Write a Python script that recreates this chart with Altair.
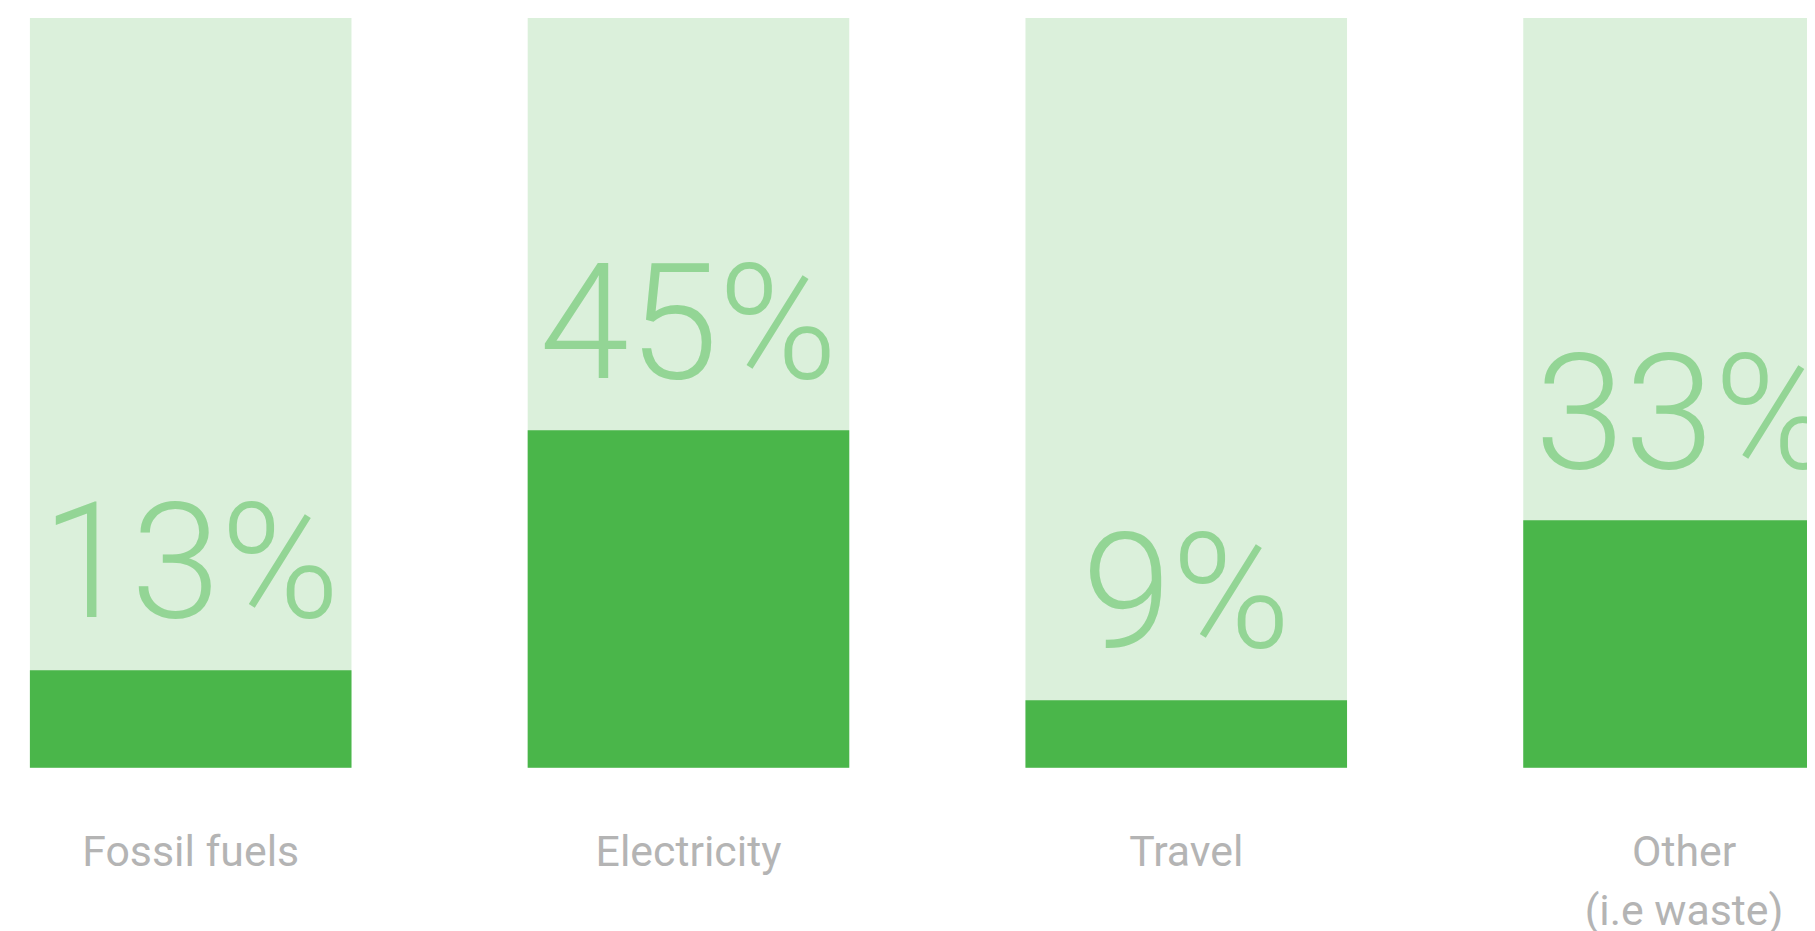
import altair as alt
import pandas as pd

categories = ["Fossil fuels", "Electricity", "Travel", "Other\n(i.e waste)"]
values = [13, 45, 9, 33]
full = [100, 100, 100, 100]

df = pd.DataFrame({"category": categories, "value": values, "full": full})

x_enc = alt.X(
    "category:N",
    sort=None,
    title=None,
    scale=alt.Scale(range=[22, 1845], paddingInner=0.354, paddingOuter=0, round=False),
    axis=alt.Axis(
        labelAngle=0,
        domain=False,
        ticks=False,
        tickSize=0,
        grid=False,
        labelPadding=98,
        labelBaseline="alphabetic",
        labelFont="Roboto",
        labelFontSize=43,
        labelColor="#b4b4b4",
        labelLineHeight=60,
        labelLimit=0,
        labelOverlap=False,
        labelExpr="split(datum.label, '\\n')",
    ),
)
y_scale = alt.Scale(domain=[0, 100], nice=False, zero=True)

base = alt.Chart(df)

bg = base.mark_bar(color="#dbf0db").encode(
    x=x_enc,
    y=alt.Y("full:Q", scale=y_scale, axis=None),
)

fg = base.mark_bar(color="#4ab64a").encode(
    x=x_enc,
    y=alt.Y("value:Q", scale=y_scale, axis=None),
)

labels = base.transform_calculate(
    label="datum.value + '%'"
).mark_text(
    font="Roboto",
    fontWeight=300,
    fontSize=162,
    color="#93d595",
    align="center",
    baseline="alphabetic",
    dy=-53,
).encode(
    x=x_enc,
    y=alt.Y("value:Q", scale=y_scale, axis=None),
    text="label:N",
)

chart = (
    alt.layer(bg, fg, labels)
    .properties(
        width=1807,
        height=753,
        autosize=alt.AutoSizeParams(type="none"),
        padding={"left": 0, "top": 8, "right": 0, "bottom": 162},
    )
    .configure_view(stroke=None)
)

chart.save("out.html", embed_options={"renderer": "svg", "actions": False})
